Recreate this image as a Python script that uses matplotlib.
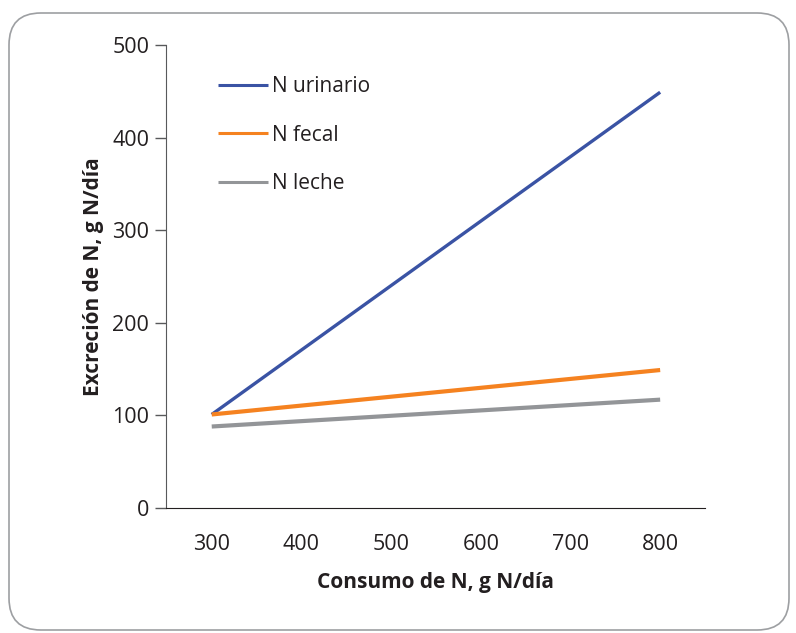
import matplotlib
matplotlib.use("Agg")
import matplotlib.pyplot as plt
from matplotlib.patches import FancyBboxPatch

# datos
consumo = [300, 800]
n_urinario = [101, 449]
n_fecal = [101, 149]
n_leche = [88, 117]
yticks = [0, 100, 200, 300, 400, 500]
xticks = [300, 400, 500, 600, 700, 800]

plt.rcParams["font.family"] = ["Open Sans", "DejaVu Sans"]
txt = "#231f20"

fig = plt.figure(figsize=(7.96, 6.33), dpi=100)

# marco redondeado
box = FancyBboxPatch((9/796, 1 - 630/633), (789 - 9)/796, (630 - 13)/633,
                     boxstyle="round,pad=0,rounding_size=0.04",
                     transform=fig.transFigure, fill=False,
                     edgecolor="#9d9fa2", lw=1.2, mutation_aspect=796/633)
fig.patches.append(box)

ax = fig.add_axes([166/796, 1 - 508/633, (705 - 166)/796, (508 - 45)/633])
ax.plot(consumo, n_urinario, color="#3a53a4", lw=2.4, label="N urinario", solid_capstyle="butt")
ax.plot(consumo, n_fecal, color="#f58220", lw=3.0, label="N fecal", solid_capstyle="butt")
ax.plot(consumo, n_leche, color="#939598", lw=3.0, label="N leche", solid_capstyle="butt")

ax.set_xlim(249, 850)
ax.set_ylim(0, 500)
ax.set_xticks(xticks)
ax.set_yticks(yticks)
ax.spines["top"].set_visible(False)
ax.spines["right"].set_visible(False)
ax.spines["left"].set_color("#58595b")
ax.spines["bottom"].set_color(txt)
ax.tick_params(axis="y", direction="out", length=8, width=1, color="#58595b",
               labelsize=15.5, labelcolor=txt, pad=4)
ax.tick_params(axis="x", length=0, labelsize=15.5, labelcolor=txt, pad=19)

ax.set_xlabel("Consumo de N, g N/día", fontsize=15, fontweight="bold", color=txt, labelpad=12)
ax.set_ylabel("Excreción de N, g N/día", fontsize=15, fontweight="bold", color=txt, labelpad=6)

leg = ax.legend(loc="upper left", bbox_to_anchor=(0.061, 0.973), frameon=False,
                fontsize=15, handlelength=2.4, handletextpad=0.2, labelspacing=1.32,
                labelcolor=txt)
for h in leg.get_lines():
    h.set_linewidth(2.2)

fig.savefig("out.png", dpi=100)
